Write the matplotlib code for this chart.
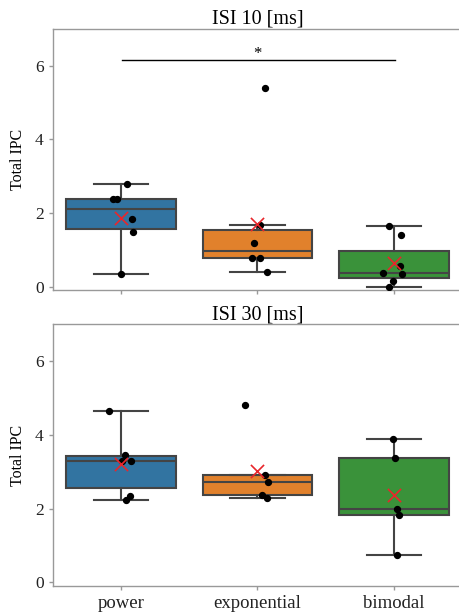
import numpy as np
import matplotlib.pyplot as plt

plt.rcParams['font.family'] = ['Liberation Serif', 'DejaVu Serif']

categories = ['power', 'exponential', 'bimodal']
colors = ['#3274a1', '#e1812c', '#3a923a']

# ISI 10 [ms]
isi10_power = [2.80, 2.37, 2.38, 1.83, 1.47, 0.35]
isi10_exponential = [5.40, 1.66, 1.18, 0.77, 0.77, 0.39]
isi10_bimodal = [1.65, 1.41, 0.55, 0.36, 0.33, 0.15, 0.00]

# ISI 30 [ms]
isi30_power = [4.65, 3.46, 3.30, 3.29, 2.33, 2.22]
isi30_exponential = [4.82, 2.92, 2.71, 2.37, 2.30]
isi30_bimodal = [3.88, 3.38, 1.98, 1.84, 0.74]

# horizontal jitter of the strip points
jit10 = [[0.044, -0.054, -0.029, 0.08, 0.092, 0.0],
         [0.056, 0.015, -0.029, -0.041, 0.015, 0.073],
         [-0.034, 0.051, 0.044, -0.083, 0.061, -0.005, -0.034]]
jit30 = [[-0.085, 0.032, 0.075, 0.01, 0.068, 0.034],
         [-0.09, 0.056, 0.08, 0.036, 0.068],
         [-0.01, 0.007, 0.019, 0.036, 0.019]]

panels = [
    ('ISI 10 [ms]', [isi10_power, isi10_exponential, isi10_bimodal], jit10),
    ('ISI 30 [ms]', [isi30_power, isi30_exponential, isi30_bimodal], jit30),
]

fig = plt.figure(figsize=(4.59, 6.15), dpi=100)
ax_top = fig.add_axes([0.1145, 0.528, 0.893, 0.425])
ax_bot = fig.add_axes([0.1145, 0.047, 0.893, 0.426])

edge = '#444444'
spine_col = '#999999'

for ax, (title, data, jit) in zip([ax_top, ax_bot], panels):
    pos = np.arange(len(categories))
    bp = ax.boxplot(data, positions=pos, widths=0.8, patch_artist=True,
                    showfliers=False, whis=1.5,
                    medianprops=dict(color=edge, linewidth=1.5),
                    whiskerprops=dict(color=edge, linewidth=1.5),
                    capprops=dict(color=edge, linewidth=1.5),
                    boxprops=dict(edgecolor=edge, linewidth=1.5))
    for patch, c in zip(bp['boxes'], colors):
        patch.set_facecolor(c)
    for i, (vals, jj) in enumerate(zip(data, jit)):
        ax.scatter(i + np.array(jj), vals, s=18, color='black', zorder=3)
        ax.scatter(i, np.mean(vals), marker='x', s=90, color='#e8262b',
                   linewidths=1.2, zorder=4)
    ax.set_xlim(-0.5, 2.5)
    ax.set_ylim(-0.1, 7.0)
    ax.set_yticks([0, 2, 4, 6])
    ax.set_ylabel('Total IPC', fontsize=11.5, labelpad=6)
    ax.set_title(title, fontsize=14.5, pad=3)
    for s in ax.spines.values():
        s.set_color(spine_col)
        s.set_linewidth(1.0)
    ax.tick_params(colors=spine_col, labelcolor='#222222', length=3,
                   width=1, labelsize=12.5)
    ax.set_xticks(pos)

ax_top.set_xticklabels([])
ax_bot.set_xticklabels(categories, fontsize=13.5)

# significance bar power vs bimodal
ax_top.plot([0.01, 2.01], [6.16, 6.16], color='black', linewidth=1)
ax_top.text(1.0, 6.1, '*', ha='center', va='bottom', fontsize=12)

fig.savefig('out.png', dpi=100)
